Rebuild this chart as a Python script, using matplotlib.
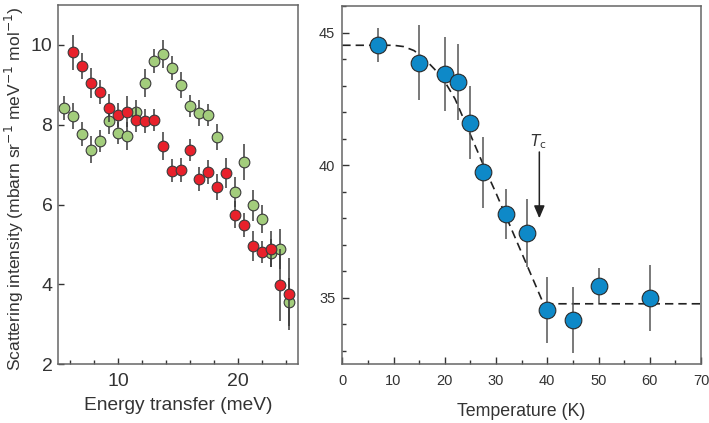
import matplotlib.pyplot as plt
from matplotlib.ticker import MultipleLocator

plt.rcParams['font.family'] = ['Liberation Sans', 'DejaVu Sans']

# left panel: scattering intensity vs energy transfer
red_e = [6.25, 7.0, 7.75, 8.5, 9.25, 10.0, 10.75, 11.5, 12.25, 13.0, 13.75, 14.5, 15.25,
         16.0, 16.75, 17.5, 18.25, 19.0, 19.75, 20.5, 21.25, 22.0, 22.75, 23.5, 24.25]
red_i = [9.82, 9.47, 9.05, 8.83, 8.43, 8.24, 8.33, 8.13, 8.09, 8.12, 7.46, 6.85, 6.86,
         7.36, 6.64, 6.82, 6.44, 6.79, 5.75, 5.48, 4.97, 4.81, 4.89, 3.99, 3.76]
red_err = [0.44, 0.33, 0.38, 0.30, 0.35, 0.30, 0.38, 0.30, 0.30, 0.28, 0.35, 0.28, 0.30,
           0.28, 0.30, 0.30, 0.33, 0.38, 0.33, 0.30, 0.38, 0.28, 0.45, 0.90, 0.90]

green_e = [5.5, 6.25, 7.0, 7.75, 8.5, 9.25, 10.0, 10.75, 11.5, 12.25, 13.0, 13.75, 14.5,
           15.25, 16.0, 16.75, 17.5, 18.25, 19.75, 20.5, 21.25, 22.0, 22.75, 23.5, 24.25]
green_i = [8.41, 8.22, 7.78, 7.38, 7.60, 8.09, 7.80, 7.73, 8.33, 9.04, 9.60, 9.77, 9.41,
           8.99, 8.47, 8.30, 8.24, 7.70, 6.32, 7.07, 5.98, 5.65, 4.79, 4.89, 3.56]
green_err = [0.30, 0.33, 0.30, 0.33, 0.28, 0.33, 0.28, 0.35, 0.30, 0.35, 0.30, 0.35, 0.30,
             0.33, 0.28, 0.33, 0.28, 0.33, 0.38, 0.45, 0.38, 0.35, 0.35, 0.50, 0.60]

# right panel: intensity vs temperature
temp = [7, 15, 20, 22.5, 25, 27.5, 32, 36, 40, 45, 50, 60]
intens = [44.52, 43.87, 43.44, 43.13, 41.61, 39.73, 38.15, 37.45, 34.54, 34.16, 35.46, 35.01]
intens_err = [0.64, 1.42, 1.40, 1.43, 1.37, 1.34, 0.94, 1.28, 1.24, 1.24, 0.65, 1.25]

# guide-to-the-eye curve
fit_t = [0, 10, 12, 14, 16, 18, 20, 22, 24, 26, 28, 30, 32, 34, 36, 38, 39, 40, 70]
fit_y = [44.52, 44.52, 44.47, 44.32, 44.02, 43.62, 43.15, 42.5, 41.6, 40.7, 39.8, 38.95,
         38.05, 37.15, 36.25, 35.35, 34.9, 34.78, 34.78]

tc_x = 38.45

txt = '#333333'
spine = '#666666'

fig = plt.figure(figsize=(7.09, 4.23), dpi=100)
ax1 = fig.add_axes([58 / 709, 1 - 364.3 / 423, 240 / 709, 359.3 / 423])
ax2 = fig.add_axes([342.3 / 709, 1 - 364.3 / 423, 358.7 / 709, 358.3 / 423])

ax1.errorbar(green_e, green_i, yerr=green_err, fmt='o', ms=7.7, mfc='#a3cd7c', mec='#3a3a3a',
             mew=0.8, ecolor='#3a3a3a', elinewidth=1.1, capsize=0, zorder=2)
ax1.errorbar(red_e, red_i, yerr=red_err, fmt='o', ms=7.7, mfc='#e8212b', mec='#3a3a3a',
             mew=0.8, ecolor='#3a3a3a', elinewidth=1.1, capsize=0, zorder=3)
ax1.set_xlim(5, 25)
ax1.set_ylim(2, 11)
ax1.xaxis.set_major_locator(MultipleLocator(10))
ax1.xaxis.set_minor_locator(MultipleLocator(2))
ax1.yaxis.set_major_locator(MultipleLocator(2))
ax1.set_xlabel('Energy transfer (meV)', fontsize=13.8, color=txt, labelpad=5)
ax1.set_ylabel('Scattering intensity (mbarn sr$^{-1}$ meV$^{-1}$ mol$^{-1}$)',
               fontsize=12.6, color=txt)
ax1.yaxis.set_label_coords(-0.135, 0.49)
ax1.tick_params(labelsize=14, colors=txt, direction='in', length=4, width=1, pad=6)
ax1.tick_params(axis='y', pad=4)
ax1.tick_params(which='minor', direction='in', length=3, width=1, color=txt)

ax2.plot(fit_t, fit_y, ls=(0, (5, 3)), color='#222222', lw=1.2, zorder=1)
ax2.errorbar(temp, intens, yerr=intens_err, fmt='o', ms=12, mfc='#0e89c8', mec='#2a2a2a',
             mew=0.8, ecolor='#555555', elinewidth=1.1, capsize=0, zorder=3)
ax2.annotate('', xy=(tc_x, 38.0), xytext=(tc_x, 40.5),
             arrowprops=dict(arrowstyle='-|>,head_length=0.75,head_width=0.32',
                             color='#222222', lw=1.1, shrinkA=0, shrinkB=0))
ax2.text(tc_x - 0.2, 40.55, '$T_{\\mathrm{c}}$', fontsize=11, color=txt, ha='center', va='bottom')
ax2.set_xlim(0, 70)
ax2.set_ylim(32.5, 46)
ax2.xaxis.set_major_locator(MultipleLocator(10))
ax2.xaxis.set_minor_locator(MultipleLocator(5))
ax2.yaxis.set_major_locator(MultipleLocator(5))
ax2.yaxis.set_minor_locator(MultipleLocator(1))
ax2.set_xlabel('Temperature (K)', fontsize=12.8, color=txt, labelpad=11)
ax2.tick_params(labelsize=10.5, colors=txt, direction='in', length=5, width=1, pad=7)
ax2.tick_params(axis='y', pad=5)
ax2.tick_params(which='minor', direction='in', length=3, width=1, color=txt)

for ax in (ax1, ax2):
    for s in ax.spines.values():
        s.set_color(spine)
        s.set_linewidth(1.1)

fig.savefig('out.png', dpi=100)
